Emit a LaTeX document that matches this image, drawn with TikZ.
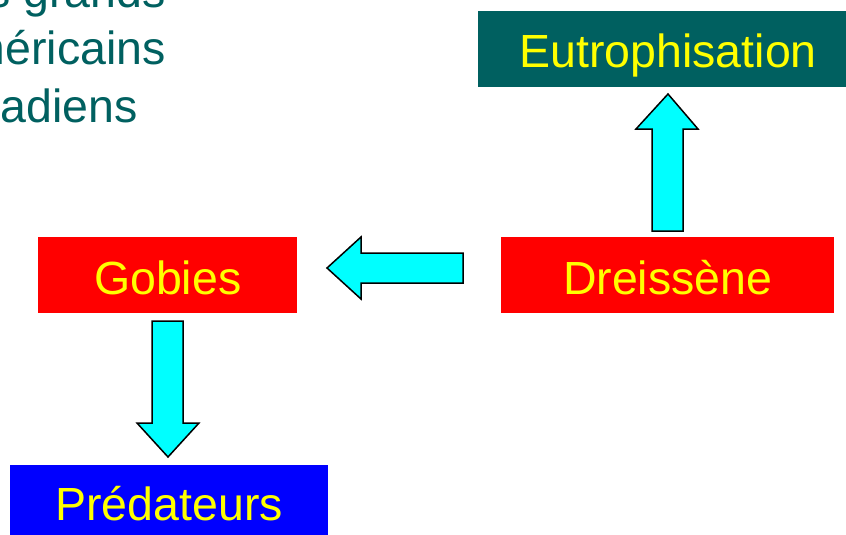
\documentclass[tikz,border=0pt]{standalone}
\usepackage{fontspec}
\setmainfont{Liberation Sans}
\definecolor{tealc}{RGB}{0,96,96}
\definecolor{boxred}{RGB}{255,0,0}
\definecolor{boxblue}{RGB}{0,0,255}
\definecolor{txtyellow}{RGB}{255,255,0}
\definecolor{arrcyan}{RGB}{0,255,255}
\begin{document}
\begin{tikzpicture}[x=1pt,y=-1pt,
  bigfont/.style={font=\fontsize{46.5}{55}\selectfont},
  box/.style={rectangle, inner sep=0pt, bigfont, text=txtyellow, align=center, anchor=north west},
  blockarrow/.style={draw=black, line width=1.5pt, fill=arrcyan, line join=miter},
  toptext/.style={bigfont, text=tealc, inner sep=0pt, anchor=base east}]
\clip (0,0) rectangle (846,535);
\fill[white] (0,0) rectangle (846,535);
% title fragments
\node[toptext] (t1) at (166,8) {s grands};
\node[toptext] (t2) at (166,65) {méricains};
\node[toptext] (t3) at (138,122) {nadiens};
% boxes
\node[box, fill=tealc, minimum width=380pt, text height=56pt, text depth=20pt] (eutro) at (478,11) {Eutrophisation};
\node[box, fill=boxred, minimum width=259pt, text height=57pt, text depth=19pt] (gobies) at (38,237) {Gobies};
\node[box, fill=boxred, minimum width=333pt, text height=57pt, text depth=19pt] (dreis) at (501,237) {Dreissène};
\node[box, fill=boxblue, minimum width=318pt, text height=55pt, text depth=21pt] (preda) at (10,465) {Prédateurs};
% block arrows
\draw[blockarrow] (463,253) -- (361,253) -- (361,237) -- (327,268) -- (361,299) -- (361,283) -- (463,283) -- cycle;
\draw[blockarrow] (652,231) -- (652,129) -- (636,129) -- (668,94) -- (698,129) -- (683,129) -- (683,231) -- cycle;
\draw[blockarrow] (152,321) -- (183,321) -- (183,423) -- (199,423) -- (168,457) -- (137,423) -- (152,423) -- cycle;
\end{tikzpicture}
\end{document}
